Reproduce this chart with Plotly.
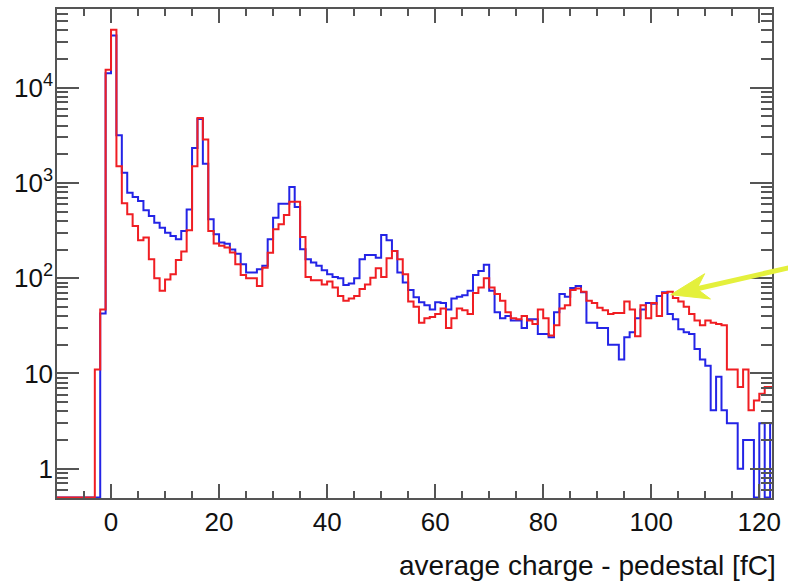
import numpy as np
import plotly.graph_objects as go

# ---------------- data ----------------
bin_low_edges = list(range(-10, 123))   # 1 fC bins, lower edges

red_counts = [
    0, 0, 0, 0, 0, 0, 0,                      # -10 .. -4
    11, 47, 15400,                            # -3 .. -1
    40500, 1500, 610, 468, 353, 250, 268, 158, 100, 74,      # 0..9
    97, 110, 155, 190, 318, 1500, 4800, 2850, 313, 231,      # 10..19
    219, 210, 186, 140, 108, 100, 100, 83, 129, 185,         # 20..29
    326, 368, 460, 634, 634, 271, 103, 95, 95, 86,           # 30..39
    92, 80, 65, 58, 61, 65, 77, 86, 101, 127,                # 40..49
    103, 162, 193, 158, 110, 57, 50, 34, 38, 39,             # 50..59
    42, 48, 30, 38, 48, 46, 42, 70, 80, 100,                 # 60..69
    80, 68, 58, 44, 38, 37, 40, 36, 33, 47,                  # 70..79
    38, 25, 32, 48, 52, 75, 78, 72, 58, 55,                  # 80..89
    49, 46, 42, 43, 43, 57, 47, 24.5, 52, 38,                # 90..99
    55, 40, 70, 72, 62, 57, 50, 42, 36, 32,                  # 100..109
    36, 34, 33, 32, 11, 11, 7.2, 11, 4.1, 5.2,               # 110..119
    6.1, 7.2, 7.2,                                           # 120..122
]

blue_counts = [
    0, 0, 0, 0, 0, 0, 0,                      # -10 .. -4
    0, 42.6, 14200,                           # -3 .. -1
    35300, 3170, 1276, 788, 710, 645, 515, 449, 382, 339,    # 0..9
    300, 278, 257, 313, 525, 2333, 4700, 1585, 415, 289,     # 10..19
    237, 230, 200, 180, 140, 115, 115, 124, 135, 256,        # 20..29
    431, 605, 605, 904, 558, 201, 158, 146, 135, 121,        # 30..39
    110, 103, 100, 85, 88, 100, 158, 175, 175, 164,          # 40..49
    284, 250, 193, 115, 90, 75, 63, 56, 52, 47,              # 50..59
    56, 55, 47, 61, 64, 66, 74, 108, 119, 138,               # 60..69
    74, 44, 38, 40, 36, 36, 30, 37, 37, 26,                  # 70..79
    26, 24, 44, 68, 64, 79, 83, 71, 34, 34,                  # 80..89
    30, 30, 20, 20, 14, 24, 27, 38, 47, 55,                  # 90..99
    54, 65, 71, 42, 37, 29, 27, 26, 18, 14,                  # 100..109
    12, 4.1, 9.2, 4.1, 3, 3, 1, 2, 2, 0,                     # 110..119
    3, 0, 3,                                                 # 120..122
]

x_tick_values = [0, 20, 40, 60, 80, 100, 120]
y_tick_values = [1, 10, 100, 1000, 10000]
y_tick_text = ["1", "10", "10<sup>2</sup>", "10<sup>3</sup>", "10<sup>4</sup>"]
x_title = "average charge - pedestal [fC]"

arrow_target = (103.6, 67)   # point the yellow arrow indicates

assert len(red_counts) == len(bin_low_edges)
assert len(blue_counts) == len(bin_low_edges)

# ---------------- layout constants ----------------
W, H = 788, 582
ML, MR, MT, MB = 57, 12, 7, 84
PW, PH = W - ML - MR, H - MT - MB
X_RANGE = [-10, 122.35]
Y_MIN, Y_MAX = 0.492, 67000.0
LY0, LY1 = np.log10(Y_MIN), np.log10(Y_MAX)

AXIS_COL = "#555555"
FONT = "Liberation Sans, Arial, Helvetica, sans-serif"


def step_xy(edges, counts):
    floor = 10 ** (LY0 + 0.006)   # empty bins drawn on the frame bottom
    x = list(edges) + [edges[-1] + 1]
    y = [c if c > 0 else floor for c in counts]
    y = y + [y[-1]]
    return x, y


def data_to_px(x, y):
    px = ML + (x - X_RANGE[0]) / (X_RANGE[1] - X_RANGE[0]) * PW
    py = MT + (LY1 - np.log10(y)) / (LY1 - LY0) * PH
    return px, py


def px_to_paper(px, py):
    return (px - ML) / PW, (H - MB - py) / PH


fig = go.Figure()
bx, by = step_xy(bin_low_edges, blue_counts)
rx, ry = step_xy(bin_low_edges, red_counts)
fig.add_trace(go.Scatter(x=bx, y=by, mode="lines", line=dict(shape="hv", color="#2424e6", width=2),
                         showlegend=False, hoverinfo="skip"))
fig.add_trace(go.Scatter(x=rx, y=ry, mode="lines", line=dict(shape="hv", color="#f01e23", width=2),
                         showlegend=False, hoverinfo="skip"))

# ---------------- yellow arrow (annotation) ----------------
tip_px = data_to_px(*arrow_target)
u = np.array([0.975, -0.222])
u = u / np.linalg.norm(u)
n = np.array([-u[1], u[0]])
tip = np.array(tip_px)
head_len, half_w, notch = 38, 13, 27
w1 = tip + head_len * u - half_w * n
w2 = tip + head_len * u + half_w * n
nt = tip + notch * u
tail = tip + 135 * u
pts = [px_to_paper(*p) for p in (tip, w1, nt, w2)]
path = "M {} {} L {} {} L {} {} L {} {} Z".format(*[f"{v:.5f}" for p in pts for v in p])
ARROW_COL = "#e4f03c"
s0 = px_to_paper(*(tip + (notch - 2) * u))
s1 = px_to_paper(*tail)
fig.add_shape(type="line", xref="paper", yref="paper", x0=s0[0], y0=s0[1], x1=s1[0], y1=s1[1],
              line=dict(color=ARROW_COL, width=5), layer="above")
fig.add_shape(type="path", xref="paper", yref="paper", path=path, fillcolor=ARROW_COL,
              line=dict(color=ARROW_COL, width=1), layer="above")

fig.add_annotation(text=x_title, xref="paper", yref="paper", x=1, y=0, xanchor="right",
                   yanchor="middle", yshift=-67, xshift=6, showarrow=False,
                   font=dict(family=FONT, size=28, color="#111111"))

fig.update_xaxes(
    range=X_RANGE, tickvals=x_tick_values, ticks="inside", ticklen=14, tickwidth=1.5,
    tickcolor=AXIS_COL, showline=True, linecolor=AXIS_COL, linewidth=1.5, mirror="ticks",
    showgrid=False, zeroline=False,
    minor=dict(dtick=5, tick0=0, ticks="inside", ticklen=7, tickwidth=1.5, tickcolor=AXIS_COL, showgrid=False),
    tickfont=dict(family=FONT, size=26, color="#111111"),
)
fig.update_yaxes(
    type="log", range=[LY0, LY1], tickvals=y_tick_values, ticktext=y_tick_text,
    ticks="inside", ticklen=22, tickwidth=1.5, tickcolor=AXIS_COL,
    showline=True, linecolor=AXIS_COL, linewidth=1.5, mirror="ticks",
    showgrid=False, zeroline=False, ticklabelstandoff=-3,
    minor=dict(dtick="D1", ticks="inside", ticklen=11, tickwidth=1.5, tickcolor=AXIS_COL, showgrid=False),
    tickfont=dict(family=FONT, size=26, color="#111111"),
)
fig.update_layout(
    width=W, height=H, margin=dict(l=ML, r=MR, t=MT, b=MB),
    paper_bgcolor="white", plot_bgcolor="white", showlegend=False,
)
fig.write_html("out.html")
